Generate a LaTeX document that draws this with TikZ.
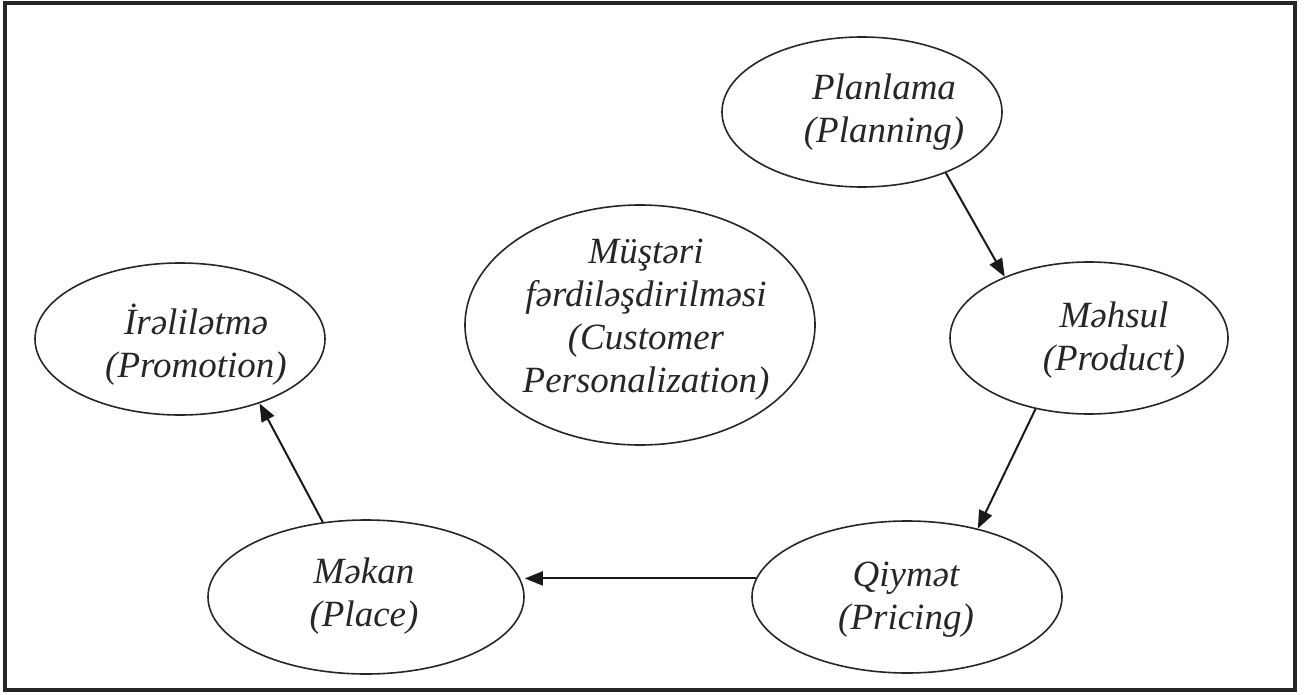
\documentclass[tikz,border=0pt]{standalone}
\usepackage{fontspec}
\setmainfont{Liberation Serif}
\usetikzlibrary{shapes.geometric,arrows.meta}
\tikzset{
  oval/.style={draw=black!85, line width=1.6pt, ellipse, inner sep=0pt},
  lbl/.style={align=center, inner sep=0pt, text=black!85, font=\itshape\fontsize{37}{43}\selectfont},
  conn/.style={draw=black!90, line width=2pt, -{Triangle[length=18pt,width=14pt]}},
  frame/.style={draw=black!85, line width=3.5pt}
}
\begin{document}
\begin{tikzpicture}[x=1pt,y=-1pt]
\useasboundingbox (0,0) rectangle (1308,695);
\draw[frame] (5,3) rectangle (1295,690);

\node[oval, minimum width=280pt, minimum height=150pt] (plan) at (862,112) {};
\node[oval, minimum width=278pt, minimum height=152pt] (prod) at (1089,338) {};
\node[oval, minimum width=310pt, minimum height=152pt] (price) at (907,597) {};
\node[oval, minimum width=316pt, minimum height=154pt] (place) at (366,597) {};
\node[oval, minimum width=290pt, minimum height=152pt] (promo) at (180,339) {};
\node[oval, minimum width=350pt, minimum height=240pt] (cust) at (640,325) {};

\node[lbl] (tplan) at (884,112) {Planlama\\(Planning)};
\node[lbl] (tprod) at (1114,340) {Məhsul\\(Product)};
\node[lbl] (tprice) at (906,600) {Qiymət\\(Pricing)};
\node[lbl] (tplace) at (364,596) {Məkan\\(Place)};
\node[lbl] (tpromo) at (196,345) {İrəlilətmə\\(Promotion)};
\node[lbl] (tcust) at (646,320) {Müştəri\\fərdiləşdirilməsi\\(Customer\\Personalization)};

\draw[conn] (plan.-36) -- (prod.144);
\draw[conn] (prod.-127) -- (price.44);
\draw[conn] (price.173) -- (place.east |- price.173);
\draw[conn] (place.120) -- (promo.-39);
\end{tikzpicture}
\end{document}
